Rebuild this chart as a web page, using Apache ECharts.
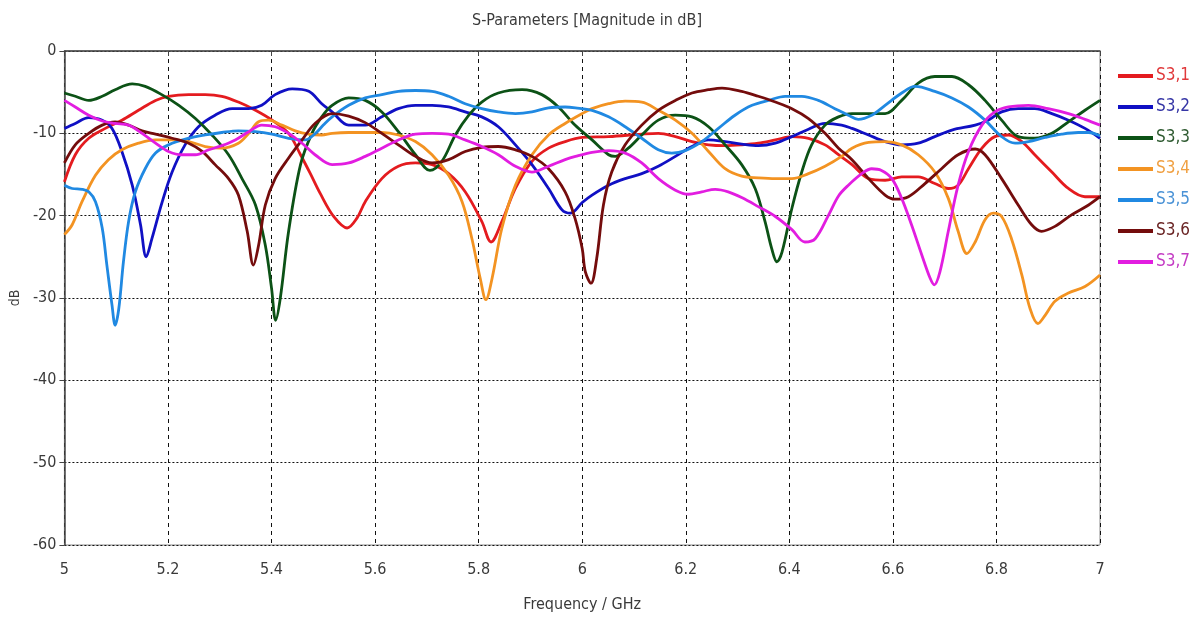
<!DOCTYPE html>
<html>
<head>
<meta charset="utf-8">
<title>S-Parameters [Magnitude in dB]</title>
<script src="https://cdn.jsdelivr.net/npm/echarts@6/dist/echarts.min.js"></script>
<style>
  html, body { margin: 0; padding: 0; background: #fff; }
  #chart { width: 1191px; height: 619px; }
</style>
</head>
<body>
<div id="chart"></div>
<script>
// Frequency sweep results, [frequency in GHz, magnitude in dB]
const S31 = [[5.000,-15.9],[5.021,-12.6],[5.047,-10.6],[5.079,-9.4],[5.111,-8.4],[5.143,-7.2],[5.176,-6.0],[5.201,-5.5],[5.240,-5.3],[5.272,-5.3],[5.304,-5.5],[5.336,-6.2],[5.369,-7.2],[5.401,-8.4],[5.433,-10.0],[5.456,-12.6],[5.475,-14.9],[5.494,-17.3],[5.520,-20.1],[5.546,-21.5],[5.565,-20.3],[5.581,-18.3],[5.613,-15.5],[5.645,-14.0],[5.678,-13.6],[5.710,-13.8],[5.742,-14.9],[5.774,-17.1],[5.806,-20.7],[5.824,-23.2],[5.845,-20.7],[5.871,-16.7],[5.903,-13.4],[5.935,-11.8],[5.967,-11.0],[6.000,-10.5],[6.051,-10.4],[6.115,-10.1],[6.147,-10.0],[6.180,-10.4],[6.212,-11.0],[6.244,-11.4],[6.276,-11.5],[6.308,-11.4],[6.340,-11.2],[6.373,-10.8],[6.405,-10.4],[6.437,-10.6],[6.469,-11.4],[6.495,-12.6],[6.521,-13.8],[6.553,-15.5],[6.585,-15.7],[6.617,-15.3],[6.649,-15.3],[6.681,-16.1],[6.707,-16.7],[6.726,-16.3],[6.746,-14.3],[6.772,-11.8],[6.797,-10.4],[6.823,-10.2],[6.849,-11.0],[6.874,-12.6],[6.907,-14.7],[6.939,-16.7],[6.971,-17.7],[7.000,-17.7]];

const S32 = [[5.000,-9.4],[5.021,-8.8],[5.047,-8.1],[5.073,-8.4],[5.092,-9.4],[5.111,-12.2],[5.131,-16.3],[5.147,-21.1],[5.158,-25.0],[5.169,-22.8],[5.189,-18.3],[5.208,-14.7],[5.233,-11.4],[5.259,-9.2],[5.291,-7.8],[5.324,-7.0],[5.356,-7.0],[5.381,-6.6],[5.407,-5.3],[5.440,-4.6],[5.472,-4.9],[5.497,-6.4],[5.517,-7.4],[5.549,-9.0],[5.581,-9.0],[5.613,-8.0],[5.645,-7.0],[5.678,-6.6],[5.710,-6.6],[5.742,-6.8],[5.774,-7.4],[5.806,-8.0],[5.838,-9.2],[5.871,-11.4],[5.903,-13.8],[5.935,-16.7],[5.961,-19.3],[5.977,-19.7],[6.000,-18.4],[6.019,-17.5],[6.051,-16.3],[6.083,-15.5],[6.115,-14.9],[6.147,-14.0],[6.180,-12.8],[6.212,-11.6],[6.244,-10.8],[6.276,-11.0],[6.308,-11.3],[6.340,-11.5],[6.373,-11.2],[6.405,-10.4],[6.437,-9.5],[6.469,-8.8],[6.501,-9.0],[6.521,-9.4],[6.553,-10.2],[6.585,-11.0],[6.617,-11.4],[6.649,-11.2],[6.681,-10.4],[6.714,-9.6],[6.759,-9.0],[6.784,-8.4],[6.810,-7.4],[6.842,-7.0],[6.874,-7.0],[6.907,-7.6],[6.939,-8.4],[6.971,-9.4],[7.000,-10.6]];

const S33 = [[5.000,-5.1],[5.021,-5.5],[5.047,-6.0],[5.073,-5.5],[5.098,-4.7],[5.131,-4.0],[5.156,-4.3],[5.188,-5.3],[5.221,-6.6],[5.253,-8.2],[5.285,-10.2],[5.317,-12.6],[5.343,-15.5],[5.369,-18.7],[5.388,-23.6],[5.400,-28.8],[5.408,-32.7],[5.417,-30.0],[5.433,-21.9],[5.456,-13.8],[5.478,-10.0],[5.497,-8.0],[5.517,-6.6],[5.549,-5.7],[5.581,-6.0],[5.613,-7.4],[5.645,-9.8],[5.678,-12.6],[5.706,-14.5],[5.729,-13.4],[5.755,-10.2],[5.781,-7.8],[5.806,-6.2],[5.838,-5.1],[5.884,-4.7],[5.922,-5.3],[5.954,-6.8],[5.986,-9.0],[6.019,-10.8],[6.051,-12.6],[6.064,-12.8],[6.089,-11.8],[6.115,-10.2],[6.147,-8.4],[6.180,-7.8],[6.212,-8.0],[6.244,-9.2],[6.276,-11.4],[6.308,-13.8],[6.334,-16.7],[6.353,-20.7],[6.366,-24.0],[6.376,-25.6],[6.386,-24.4],[6.405,-19.1],[6.424,-14.7],[6.443,-11.4],[6.469,-9.0],[6.495,-8.0],[6.521,-7.6],[6.553,-7.6],[6.585,-7.6],[6.617,-6.0],[6.649,-3.9],[6.681,-3.1],[6.714,-3.1],[6.746,-4.1],[6.778,-6.0],[6.810,-8.4],[6.842,-10.4],[6.874,-10.6],[6.907,-10.0],[6.939,-8.6],[6.971,-7.2],[7.000,-6.0]];

const S34 = [[5.000,-22.3],[5.015,-21.1],[5.034,-18.3],[5.060,-15.1],[5.085,-13.2],[5.111,-12.0],[5.143,-11.2],[5.176,-10.8],[5.208,-10.8],[5.240,-11.0],[5.272,-11.6],[5.304,-11.8],[5.336,-11.2],[5.356,-10.0],[5.375,-8.6],[5.394,-8.4],[5.420,-9.0],[5.446,-9.7],[5.472,-10.1],[5.497,-10.2],[5.517,-10.0],[5.549,-9.9],[5.581,-9.9],[5.613,-9.9],[5.645,-10.2],[5.678,-11.0],[5.710,-12.6],[5.742,-15.1],[5.768,-18.3],[5.787,-22.8],[5.803,-27.6],[5.814,-30.2],[5.826,-27.6],[5.845,-21.5],[5.871,-16.3],[5.903,-12.6],[5.935,-10.2],[5.967,-8.8],[6.000,-7.6],[6.019,-7.0],[6.051,-6.4],[6.083,-6.1],[6.115,-6.2],[6.147,-7.2],[6.180,-8.4],[6.212,-10.0],[6.244,-12.2],[6.276,-14.3],[6.308,-15.2],[6.340,-15.4],[6.373,-15.5],[6.405,-15.5],[6.437,-14.9],[6.469,-14.0],[6.501,-12.8],[6.521,-11.8],[6.553,-11.1],[6.585,-11.0],[6.617,-11.4],[6.649,-12.6],[6.681,-14.7],[6.707,-17.9],[6.726,-21.9],[6.743,-24.6],[6.759,-23.2],[6.778,-20.5],[6.794,-19.7],[6.810,-20.1],[6.829,-22.8],[6.849,-27.2],[6.865,-31.3],[6.880,-33.1],[6.894,-32.1],[6.913,-30.4],[6.939,-29.4],[6.971,-28.6],[7.000,-27.2]];

const S35 = [[5.000,-16.3],[5.015,-16.7],[5.034,-16.8],[5.047,-17.1],[5.060,-18.3],[5.073,-21.5],[5.082,-26.0],[5.092,-30.9],[5.098,-33.3],[5.105,-31.3],[5.114,-25.6],[5.124,-20.7],[5.137,-17.1],[5.156,-14.3],[5.176,-12.4],[5.201,-11.4],[5.240,-10.6],[5.272,-10.2],[5.304,-9.9],[5.336,-9.7],[5.369,-9.8],[5.401,-10.1],[5.433,-10.6],[5.465,-10.8],[5.485,-10.0],[5.500,-9.0],[5.517,-8.0],[5.549,-6.6],[5.581,-5.7],[5.613,-5.3],[5.645,-4.9],[5.678,-4.8],[5.710,-4.9],[5.742,-5.5],[5.774,-6.4],[5.806,-7.0],[5.838,-7.4],[5.871,-7.6],[5.903,-7.4],[5.935,-6.9],[5.967,-6.8],[5.987,-6.9],[6.019,-7.2],[6.051,-8.0],[6.083,-9.2],[6.115,-10.6],[6.147,-12.0],[6.173,-12.4],[6.199,-12.1],[6.231,-11.0],[6.263,-9.4],[6.295,-7.8],[6.328,-6.6],[6.360,-6.0],[6.392,-5.5],[6.424,-5.5],[6.456,-6.0],[6.488,-7.0],[6.514,-7.8],[6.533,-8.3],[6.559,-7.8],[6.585,-6.6],[6.617,-5.1],[6.643,-4.3],[6.681,-4.9],[6.714,-5.7],[6.746,-6.8],[6.778,-8.4],[6.810,-10.4],[6.836,-11.2],[6.862,-11.0],[6.894,-10.5],[6.926,-10.1],[6.958,-9.9],[6.978,-9.9],[7.000,-10.3]];

const S36 = [[5.000,-13.6],[5.021,-11.4],[5.047,-10.0],[5.073,-9.0],[5.098,-8.6],[5.124,-9.0],[5.150,-9.7],[5.176,-10.1],[5.208,-10.6],[5.240,-11.2],[5.266,-12.2],[5.291,-13.8],[5.317,-15.5],[5.336,-17.5],[5.353,-21.9],[5.365,-26.0],[5.375,-23.6],[5.388,-18.7],[5.407,-15.5],[5.433,-13.0],[5.459,-10.8],[5.484,-8.8],[5.517,-7.6],[5.549,-7.9],[5.581,-8.7],[5.613,-10.0],[5.645,-11.4],[5.678,-12.8],[5.710,-13.6],[5.742,-13.2],[5.774,-12.2],[5.806,-11.7],[5.838,-11.6],[5.871,-12.0],[5.903,-12.8],[5.935,-14.3],[5.967,-17.1],[5.986,-20.3],[6.000,-24.0],[6.006,-26.8],[6.017,-28.2],[6.028,-25.2],[6.041,-18.7],[6.057,-14.7],[6.083,-11.4],[6.115,-9.0],[6.147,-7.2],[6.180,-6.0],[6.212,-5.1],[6.244,-4.7],[6.270,-4.5],[6.308,-4.9],[6.340,-5.5],[6.373,-6.2],[6.405,-7.0],[6.437,-8.2],[6.469,-10.0],[6.495,-11.8],[6.521,-13.2],[6.553,-15.5],[6.585,-17.5],[6.604,-18.0],[6.630,-17.7],[6.662,-16.1],[6.694,-14.3],[6.726,-12.6],[6.759,-11.9],[6.778,-12.6],[6.810,-15.5],[6.842,-18.7],[6.868,-21.1],[6.887,-21.9],[6.913,-21.3],[6.945,-19.9],[6.978,-18.7],[7.000,-17.7]];

const S37 = [[5.000,-6.0],[5.021,-6.8],[5.047,-7.8],[5.073,-8.5],[5.098,-8.8],[5.124,-9.0],[5.150,-10.0],[5.176,-11.2],[5.201,-12.2],[5.227,-12.6],[5.253,-12.6],[5.279,-12.0],[5.304,-11.5],[5.330,-10.8],[5.356,-9.8],[5.381,-9.0],[5.407,-9.2],[5.433,-10.0],[5.459,-11.2],[5.484,-12.6],[5.517,-13.8],[5.549,-13.6],[5.581,-12.8],[5.613,-11.8],[5.645,-10.8],[5.678,-10.1],[5.710,-10.0],[5.742,-10.1],[5.774,-10.8],[5.806,-11.6],[5.838,-12.6],[5.871,-14.0],[5.903,-14.7],[5.935,-14.0],[5.967,-13.2],[5.987,-12.8],[6.019,-12.3],[6.051,-12.1],[6.083,-12.4],[6.115,-13.6],[6.147,-15.5],[6.180,-16.9],[6.205,-17.4],[6.231,-17.1],[6.257,-16.8],[6.282,-17.1],[6.308,-17.8],[6.340,-18.9],[6.373,-20.1],[6.405,-21.7],[6.430,-23.2],[6.450,-22.8],[6.476,-19.9],[6.495,-17.6],[6.514,-16.3],[6.540,-14.9],[6.559,-14.3],[6.578,-14.5],[6.598,-15.5],[6.617,-17.9],[6.636,-21.1],[6.656,-24.8],[6.672,-27.6],[6.680,-28.4],[6.691,-26.8],[6.707,-21.9],[6.726,-16.3],[6.746,-12.2],[6.772,-9.0],[6.797,-7.4],[6.823,-6.8],[6.862,-6.6],[6.900,-7.0],[6.939,-7.6],[6.971,-8.3],[7.000,-9.0]];

const seriesNames = ['S3,1', 'S3,2', 'S3,3', 'S3,4', 'S3,5', 'S3,6', 'S3,7'];
const seriesData = [S31, S32, S33, S34, S35, S36, S37];
const seriesColors = ['#e41b1f', '#1010c4', '#0c5216', '#f39322', '#2089e2', '#740c0c', '#e21de0'];
const legendTextColors = ['#e0393b', '#3636a6', '#2e5a30', '#f0a042', '#4a92d6', '#6a2424', '#c43cc4'];

const FONT = "'Liberation Sans Narrow', 'DejaVu Sans Condensed', 'Liberation Sans', sans-serif";

const chart = echarts.init(document.getElementById('chart'), null, { renderer: 'canvas' });

chart.setOption({
  animation: false,
  backgroundColor: '#ffffff',
  title: {
    text: 'S-Parameters [Magnitude in dB]',
    left: 582,
    top: 8,
    textAlign: 'center',
    textStyle: { fontFamily: FONT, fontSize: 16, fontWeight: 'normal', color: '#3a3a3a' }
  },
  legend: {
    orient: 'vertical',
    left: 1113,
    top: 62,
    icon: 'rect',
    itemWidth: 35,
    itemHeight: 4,
    itemGap: 13,
    textStyle: { fontFamily: FONT, fontSize: 17, lineHeight: 18, padding: [0, 0, 0, -2] },
    data: seriesNames.map((n, i) => ({ name: n, textStyle: { color: legendTextColors[i] } }))
  },
  grid: {
    left: 64, right: 91, top: 51, bottom: 74,
    show: true,
    borderColor: '#8a8a8a',
    borderWidth: 1
  },
  xAxis: {
    type: 'value',
    min: 5, max: 7, interval: 0.2,
    name: 'Frequency / GHz',
    nameLocation: 'middle',
    nameGap: 52,
    nameTextStyle: { fontFamily: FONT, fontSize: 16, color: '#3a3a3a' },
    axisLine: { lineStyle: { color: '#444', width: 1.5 } },
    axisTick: { show: true, length: 5, lineStyle: { color: '#444', width: 1 } },
    axisLabel: {
      fontFamily: FONT, fontSize: 16, color: '#3a3a3a', margin: 17,
      formatter: v => String(+v.toFixed(1))
    },
    splitLine: { show: true, lineStyle: { color: '#111', width: 1, type: [4, 4] } }
  },
  yAxis: {
    type: 'value',
    min: -60, max: 0, interval: 10,
    name: 'dB',
    nameLocation: 'middle',
    nameGap: 39,
    nameRotate: 90,
    nameTextStyle: { fontFamily: FONT, fontSize: 14, color: '#3a3a3a' },
    axisLine: { show: true, lineStyle: { color: '#444', width: 1.5 } },
    axisTick: { show: true, length: 5, lineStyle: { color: '#444', width: 1 } },
    axisLabel: { fontFamily: FONT, fontSize: 16, color: '#3a3a3a', margin: 8 },
    splitLine: { show: true, lineStyle: { color: '#111', width: 1, type: [2, 2] } }
  },
  series: seriesNames.map((n, i) => ({
    name: n,
    type: 'line',
    data: seriesData[i],
    showSymbol: false,
    smooth: 0.35,
    color: seriesColors[i],
    lineStyle: { width: 2.8, color: seriesColors[i] },
    clip: true
  }))
});
</script>
</body>
</html>
